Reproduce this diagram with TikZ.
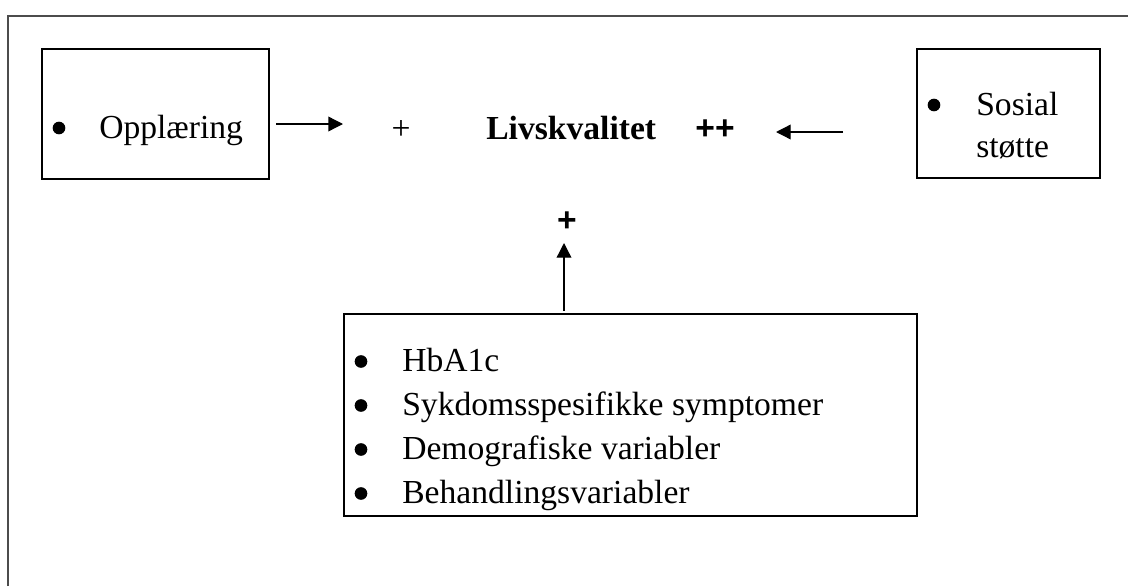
\documentclass[tikz,border=0pt]{standalone}
\usepackage{fontspec}
\setmainfont{Liberation Serif}
\newfontfamily\sansfam{Liberation Sans}
\usetikzlibrary{arrows.meta}
\begin{document}
\begin{tikzpicture}[x=0.75pt,y=-0.75pt,
  box/.style={draw, line width=1.5pt, inner sep=0pt, rectangle},
  txt/.style={inner sep=0pt, anchor=base west, font=\fontsize{25.2pt}{33pt}\selectfont},
  sym/.style={inner sep=0pt, anchor=center, font=\fontsize{25.2pt}{33pt}\selectfont},
  bdot/.style={circle, fill, inner sep=0pt, minimum size=9.5pt},
  arr/.style={-{Triangle[length=11pt,width=11pt]}, line width=1pt}]
\useasboundingbox (0,0) rectangle (1128,586);
\draw[line width=1.5pt, gray!60!black] (8,586) -- (8,16) -- (1128,16);

% boxes
\node[box, minimum width=170.25pt, minimum height=97.5pt] (opbox) at (155.5,114) {};
\node[box, minimum width=137.25pt, minimum height=96.75pt] (sobox) at (1008.5,113.5) {};
\node[box, minimum width=429.75pt, minimum height=151.5pt] (botbox) at (630.5,415) {};

% Opplaering
\node[bdot] (opdot) at (59,128) {};
\node[txt] (optxt) at (99,138) {Opplæring};

% Sosial stotte
\node[bdot] (sodot) at (934,105) {};
\node[txt] (sotxt1) at (976,115) {Sosial};
\node[txt] (sotxt2) at (976,157) {støtte};

% centre
\node[sym] (plusa) at (401,130) {+};
\node[txt, font=\fontsize{25.2pt}{33pt}\selectfont\bfseries] (liv) at (486,139) {Livskvalitet};
\node[sym, font=\fontsize{25.2pt}{33pt}\selectfont\sansfam\bfseries] (plusb) at (715,130) {++};
\node[sym, font=\fontsize{25.2pt}{33pt}\selectfont\sansfam\bfseries] (plusc) at (567,222) {+};

% list
\node[bdot] (d1) at (361,361.5) {};
\node[txt] (l1) at (402,371) {HbA1c};
\node[bdot] (d2) at (361,405.5) {};
\node[txt] (l2) at (402,415) {Sykdomsspesifikke symptomer};
\node[bdot] (d3) at (361,449.5) {};
\node[txt] (l3) at (402,459) {Demografiske variabler};
\node[bdot] (d4) at (361,493.5) {};
\node[txt] (l4) at (402,503) {Behandlingsvariabler};

% arrows
\coordinate (a1s) at (276,124);
\coordinate (a1e) at (343,124);
\coordinate (a2s) at (843,132);
\coordinate (a2e) at (776,132);
\coordinate (a3s) at (564,311);
\coordinate (a3e) at (564,243);
\draw[arr] (a1s) -- (a1e);
\draw[arr] (a2s) -- (a2e);
\draw[arr] (a3s) -- (a3e);
\end{tikzpicture}
\end{document}
